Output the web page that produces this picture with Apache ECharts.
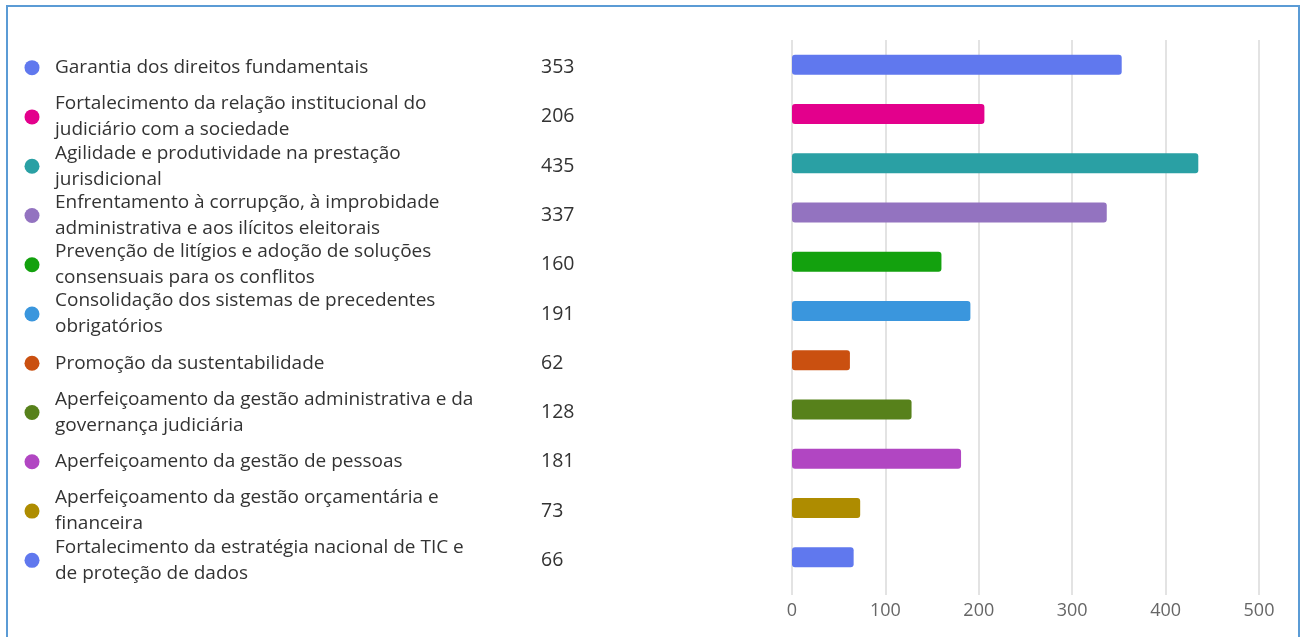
<!DOCTYPE html>
<html>
<head>
<meta charset="utf-8">
<script src="https://cdn.jsdelivr.net/npm/echarts@6/dist/echarts.min.js"></script>
<style>
html,body{margin:0;padding:0;background:#fff;}
#frame{position:absolute;left:6px;top:5px;width:1294px;height:640px;border:2px solid #5B9BD5;border-bottom:none;box-sizing:border-box;}
#chart{position:absolute;left:0;top:0;width:1309px;height:637px;}
</style>
</head>
<body>
<div id="frame"></div>
<div id="chart"></div>
<script>
const categories = [
  "Garantia dos direitos fundamentais",
  "Fortalecimento da relação institucional do judiciário com a sociedade",
  "Agilidade e produtividade na prestação jurisdicional",
  "Enfrentamento à corrupção, à improbidade administrativa e aos ilícitos eleitorais",
  "Prevenção de litígios e adoção de soluções consensuais para os conflitos",
  "Consolidação dos sistemas de precedentes obrigatórios",
  "Promoção da sustentabilidade",
  "Aperfeiçoamento da gestão administrativa e da governança judiciária",
  "Aperfeiçoamento da gestão de pessoas",
  "Aperfeiçoamento da gestão orçamentária e financeira",
  "Fortalecimento da estratégia nacional de TIC e de proteção de dados"
];
const values = [353, 206, 435, 337, 160, 191, 62, 128, 181, 73, 66];
const colors = ["#6078EE", "#E3008C", "#2AA0A4", "#9373C0", "#13A10E", "#3A96DD", "#CA5010", "#57811B", "#B146C2", "#AE8C00", "#6078EE"];
const xTicks = { min: 0, max: 500, interval: 100 };

const FONT = "'Open Sans', sans-serif";
const LABEL_SIZE = 19;
const WRAP_WIDTH = 428;

const measureCtx = document.createElement('canvas').getContext('2d');
function wrapText(text) {
  measureCtx.font = LABEL_SIZE + 'px ' + FONT;
  const words = text.split(' ');
  const lines = [];
  let cur = '';
  words.forEach(w => {
    const test = cur ? cur + ' ' + w : w;
    if (cur && measureCtx.measureText(test).width > WRAP_WIDTH) {
      lines.push(cur);
      cur = w;
    } else {
      cur = test;
    }
  });
  if (cur) lines.push(cur);
  return lines.join('\n');
}

const dotRich = {};
colors.forEach((c, i) => {
  dotRich['d' + i] = { width: 15, height: 15, borderRadius: 8, backgroundColor: c };
});

function render() {
  const chart = echarts.init(document.getElementById('chart'), null, { renderer: 'canvas' });
  chart.setOption({
    animation: false,
    textStyle: { fontFamily: FONT },
    grid: [
      { left: 792, right: 50, top: 40, bottom: 55, containLabel: false },
      { left: 792, right: 50, top: 40, bottom: 42, containLabel: false },
      { left: 792, right: 50, top: 43, bottom: 52, containLabel: false }
    ],
    xAxis: [
      { gridIndex: 0, type: 'value', min: xTicks.min, max: xTicks.max, interval: xTicks.interval, show: false },
      { gridIndex: 1, type: 'value', min: xTicks.min, max: xTicks.max, interval: xTicks.interval,
        axisLine: { show: false }, axisTick: { show: false },
        splitLine: { show: true, lineStyle: { color: '#e3e3e3', width: 2 } },
        axisLabel: { fontSize: 18, color: '#666', margin: 7, fontFamily: FONT } },
      { gridIndex: 2, type: 'value', min: xTicks.min, max: xTicks.max, show: false }
    ],
    yAxis: [
      { gridIndex: 0, type: 'category', data: categories, inverse: true, show: false },
      { gridIndex: 1, type: 'value', show: false },
      { gridIndex: 2, type: 'category', data: categories, inverse: true,
        axisLine: { show: false }, axisTick: { show: false },
        axisLabel: { interval: 0, align: 'left', margin: 737, fontSize: LABEL_SIZE, lineHeight: 26, color: '#333', fontFamily: FONT,
          formatter: (v) => wrapText(v) } },
      { gridIndex: 2, type: 'category', data: categories, inverse: true, position: 'left',
        axisLine: { show: false }, axisTick: { show: false },
        axisLabel: { interval: 0, align: 'left', margin: 251, fontSize: 19.5, color: '#333', fontFamily: FONT,
          formatter: (v, i) => String(values[i]) } },
      { gridIndex: 2, type: 'category', data: categories, inverse: true, position: 'left',
        axisLine: { show: false }, axisTick: { show: false },
        axisLabel: { interval: 0, align: 'center', margin: 760, formatter: (v, i) => '{d' + i + '|}', rich: dotRich } }
    ],
    series: [{
      type: 'bar', xAxisIndex: 0, yAxisIndex: 0, barWidth: 20,
      data: values.map((v, i) => ({ value: v, itemStyle: { color: colors[i], borderRadius: 3 } }))
    }]
  });
}
if (document.fonts && document.fonts.load) {
  document.fonts.load(LABEL_SIZE + 'px "Open Sans"').then(render, render);
} else {
  render();
}
</script>
</body>
</html>
